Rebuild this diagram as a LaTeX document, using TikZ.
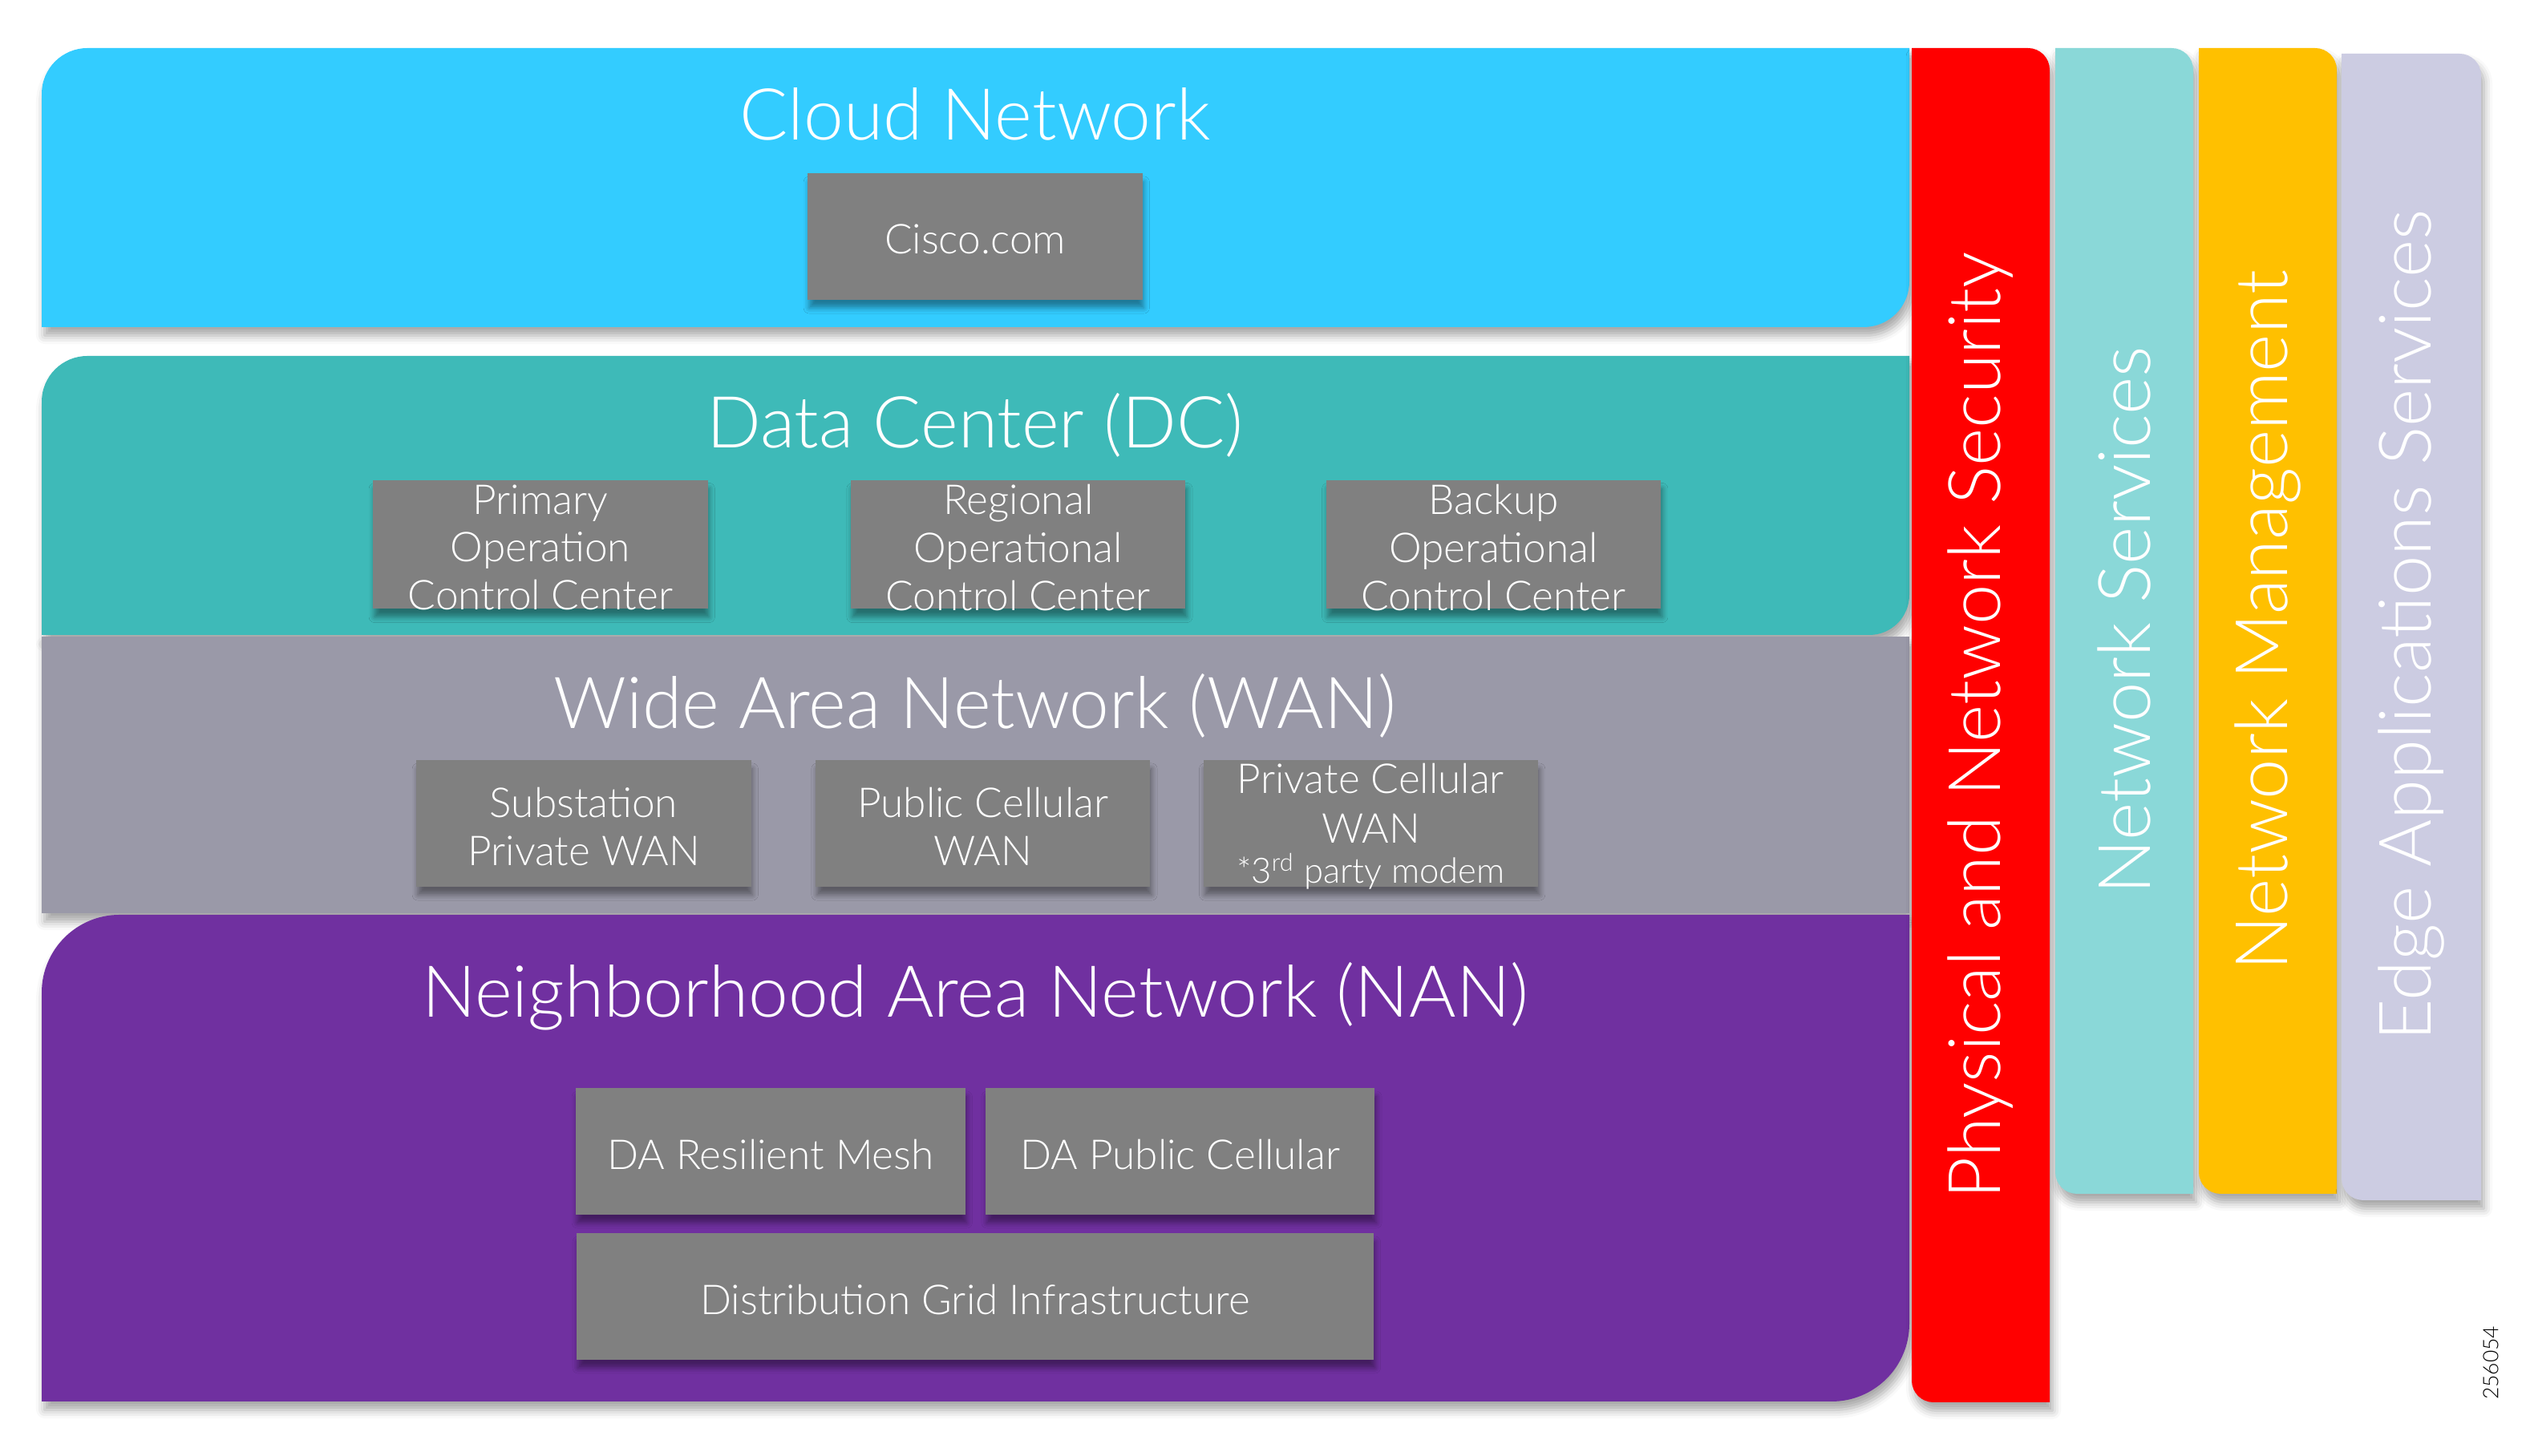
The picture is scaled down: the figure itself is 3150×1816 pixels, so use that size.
\documentclass[tikz,border=0pt]{standalone}
\usepackage{fontspec}
\setmainfont{Lato}[UprightFont={* Light}]
\usepackage{tikz}
\usetikzlibrary{
	positioning,
	shadows.blur
}

\definecolor{cloudc}{HTML}{33CCFF}
\definecolor{dcc}{HTML}{3EBAB8}
\definecolor{wanc}{HTML}{9A99A8}
\definecolor{nanc}{HTML}{7030A0}
\definecolor{secc}{HTML}{FF0000}
\definecolor{svcc}{HTML}{8AD8D8}
\definecolor{mgmtc}{HTML}{FFC000}
\definecolor{edgec}{HTML}{CCCCE2}
\definecolor{boxc}{HTML}{808080}

\tikzset{
	bandshadow/.style={blur shadow={shadow xshift=1pt, shadow yshift=-3pt, shadow blur radius=3pt, shadow opacity=35}},
	gbox/.style={fill=boxc, minimum width=4.17cm, minimum height=1.57cm, inner sep=0pt,
		blur shadow={shadow xshift=0.5pt, shadow yshift=-3pt, shadow blur radius=2pt, shadow opacity=40}},
	btext/.style={text=white, align=center, yshift=-1.1pt, font=\fontsize{14.6}{17}\selectfont},
	bandtitle/.style={text=white, anchor=base, font=\fontsize{25.4}{30}\selectfont},
	bartext/.style={text=white, rotate=90, font=\fontsize{25.7}{30}\selectfont}
}

\begin{document}
\begin{tikzpicture}[x=0.01cm, y=0.01cm]
		\useasboundingbox (0,0) rectangle (3150,1816);

		% horizontal layers
		\fill[cloudc, bandshadow] (52,1408) -- (52,1699) arc[start angle=180, end angle=90, radius=57]
			-- (2381,1756) -- (2381,1465) arc[start angle=0, end angle=-90, radius=57] -- cycle;
		\fill[dcc, bandshadow] (52,1024) -- (52,1315) arc[start angle=180, end angle=90, radius=57]
			-- (2381,1372) -- (2381,1074) arc[start angle=0, end angle=-90, radius=50] -- cycle;
		\fill[wanc, bandshadow] (52,677) rectangle (2381,1022);
		\fill[nanc, bandshadow] (52,68) -- (52,578) arc[start angle=180, end angle=90, radius=97]
			-- (2381,675) -- (2381,165) arc[start angle=0, end angle=-90, radius=97] -- cycle;

		% vertical bars
		\fill[secc, bandshadow] (2384,1756) -- (2529,1756) arc[start angle=90, end angle=0, radius=27]
			-- (2556,67) -- (2411,67) arc[start angle=270, end angle=180, radius=27] -- cycle;
		\fill[svcc, bandshadow] (2563,1756) -- (2708,1756) arc[start angle=90, end angle=0, radius=27]
			-- (2735,327) -- (2590,327) arc[start angle=270, end angle=180, radius=27] -- cycle;
		\fill[mgmtc, bandshadow] (2742,1756) -- (2887,1756) arc[start angle=90, end angle=0, radius=27]
			-- (2914,327) -- (2769,327) arc[start angle=270, end angle=180, radius=27] -- cycle;
		\fill[edgec, bandshadow] (2920,1749) -- (3067,1749) arc[start angle=90, end angle=0, radius=27]
			-- (3094,319) -- (2947,319) arc[start angle=270, end angle=180, radius=27] -- cycle;

		% titles
		\node[bandtitle] (cloudt) at (1216,1641) {Cloud Network};
		\node[bandtitle] (dct)    at (1216,1257) {Data Center (DC)};
		\node[bandtitle] (want)   at (1216,907)  {Wide Area Network (WAN)};
		\node[bandtitle] (nant)   at (1216,547)  {Neighborhood Area Network (NAN)};

		\node[bartext] (sect)  at (2470,911)  {Physical and Network Security};
		\node[bartext] (svct)  at (2649,1042) {Network Services};
		\node[bartext] (mgmtt) at (2828,1042) {Network Management};
		\node[bartext] (edget) at (3007,1036) {Edge Applications Services};

		% cloud
		\node[gbox, label={[btext]center:Cisco.com}] (cisco) at (1216,1521) {};

		% data center
		\node[gbox, minimum height=1.6cm, label={[btext]center:Primary\\Operation\\Control Center}] (poc) at (674,1137) {};
		\node[gbox, minimum height=1.6cm, right=1.77cm of poc, label={[btext]center:Regional\\Operational\\Control Center}] (roc) {};
		\node[gbox, minimum height=1.6cm, right=1.74cm of roc, label={[btext]center:Backup\\Operational\\Control Center}] (boc) {};

		% wan
		\node[gbox, label={[btext]center:Substation\\Private WAN}] (sub) at (728,789) {};
		\node[gbox, right=0.79cm of sub, label={[btext]center:Public Cellular\\WAN}] (pub) {};
		\node[gbox, right=0.65cm of pub,
			label={[btext]center:Private Cellular\\[0.6pt]WAN\\[-2.6pt]{\fontsize{12.4}{14}\selectfont *3\textsuperscript{rd} party modem}}] (pri) {};

		% nan
		\node[gbox, minimum width=4.85cm, label={[btext]center:DA Resilient Mesh}] (dam) at (961,380) {};
		\node[gbox, minimum width=4.85cm, right=0.24cm of dam, label={[btext]center:DA Public Cellular}] (dap) {};
		\node[gbox, minimum width=9.93cm, label={[btext]center:Distribution Grid Infrastructure}] (dgi) at (1216,199) {};

		\node[rotate=90, font=\fontsize{7.5}{9}\selectfont] (fignum) at (3106,116) {256054};
\end{tikzpicture}
\end{document}
